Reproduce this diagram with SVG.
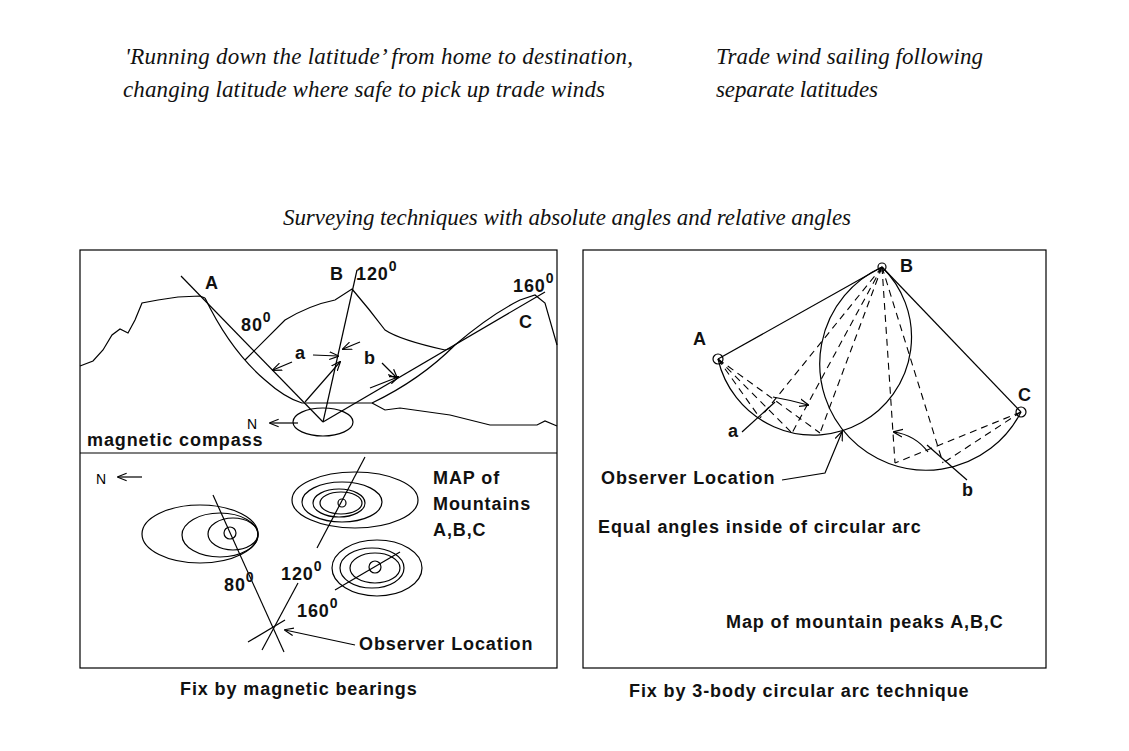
<svg xmlns="http://www.w3.org/2000/svg" width="1129" height="751" viewBox="0 0 1129 751">
<defs>
<marker id="ah" viewBox="0 0 10 10" refX="9" refY="5" markerWidth="8" markerHeight="8" orient="auto-start-reverse"><path d="M0,1 L10,5 L0,9" fill="none" stroke="#000" stroke-width="1.2"/></marker>
</defs>
<style>
.s{fill:none;stroke:#000;stroke-width:1.2}
.d{fill:none;stroke:#000;stroke-width:1.1;stroke-dasharray:7 5}
.b{font-family:"Liberation Sans",Arial,sans-serif;font-weight:bold;font-size:18px;fill:#111;letter-spacing:0.9px}
.i{font-family:"Liberation Serif","Times New Roman",serif;font-style:italic;font-size:23px;fill:#111}
.sup{font-size:14px}
</style>
<rect width="1129" height="751" fill="#fff"/>
<text class="i" x="125" y="64" textLength="508">'Running down the latitude’ from home to destination,</text>
<text class="i" x="123" y="97" textLength="482">changing latitude where safe to pick up trade winds</text>
<text class="i" x="716" y="64" textLength="267">Trade wind sailing following</text>
<text class="i" x="716" y="97" textLength="162">separate latitudes</text>
<text class="i" x="283" y="225" textLength="568">Surveying techniques with absolute angles and relative angles</text>

<g id="left-panel">
<rect class="s" x="80" y="250" width="477" height="418"/>
<line class="s" x1="80" y1="453" x2="557" y2="453"/>
<path class="s" d="M80,366 L93,361 L103,350 L112,335 L120,329 L128,333 L135,320 L142,303 L158,300 L178,297 L200,296 L205,298"/>
<path class="s" d="M205,298 Q230,350 265,380 Q285,398 302,403 L372,403 Q420,380 455,345 Q490,315 520,300 L535,295 L545,303 L557,345"/>
<path class="s" d="M245,360 Q265,340 285,320 Q310,305 335,300 L352,289 Q370,310 385,330 Q400,340 445,350 L452,348"/>
<path class="s" d="M372,403 L385,410 L400,408 L450,415 L490,425 L537,425 L545,421 L557,426"/>
<ellipse class="s" cx="323" cy="422" rx="30" ry="14"/>
<line class="s" x1="323" y1="422" x2="181" y2="276"/>
<line class="s" x1="323" y1="422" x2="357" y2="270"/>
<line class="s" x1="323" y1="422" x2="545" y2="292"/>
<line class="s" x1="298" y1="423" x2="270" y2="423" marker-end="url(#ah)"/>
<path class="s" d="M305,402 L340,362" marker-end="url(#ah)"/>
<path class="s" d="M370,388 L398,377" marker-end="url(#ah)"/>
<path class="s" d="M292,362 L273,370" marker-end="url(#ah)"/>
<path class="s" d="M313,355 L338,356" marker-end="url(#ah)"/>
<path class="s" d="M360,342 L343,349" marker-end="url(#ah)"/>
<path class="s" d="M382,363 L397,378" marker-end="url(#ah)"/>
<text class="b" x="205" y="289">A</text>
<text class="b" x="330" y="280">B</text>
<text class="b" x="356" y="280">120<tspan class="sup" dy="-9">0</tspan></text>
<text class="b" x="241" y="331">80<tspan class="sup" dy="-9">0</tspan></text>
<text class="b" x="513" y="292">160<tspan class="sup" dy="-9">0</tspan></text>
<text class="b" x="519" y="328">C</text>
<text class="b" x="295" y="359">a</text>
<text class="b" x="364" y="364">b</text>
<text x="247" y="429" style="font-family:'Liberation Sans',sans-serif;font-size:14px">N</text>
<text class="b" x="87" y="446">magnetic compass</text>

<text x="96" y="484" style="font-family:'Liberation Sans',sans-serif;font-size:14px">N</text>
<line class="s" x1="142" y1="477" x2="118" y2="477" marker-end="url(#ah)"/>
<ellipse class="s" cx="200" cy="534" rx="58" ry="29"/>
<ellipse class="s" cx="220" cy="535" rx="38" ry="22"/>
<ellipse class="s" cx="233" cy="534" rx="25" ry="16"/>
<circle class="s" cx="230" cy="533" r="6"/>
<ellipse class="s" cx="355" cy="500" rx="63" ry="28"/>
<ellipse class="s" cx="342" cy="502" rx="40" ry="20"/>
<ellipse class="s" cx="339" cy="503" rx="26" ry="14"/>
<ellipse class="s" cx="341" cy="503" rx="21" ry="11"/>
<circle class="s" cx="342" cy="503" r="4"/>
<ellipse class="s" cx="377" cy="568" rx="45" ry="28"/>
<ellipse class="s" cx="372" cy="568" rx="32" ry="20"/>
<ellipse class="s" cx="375" cy="568" rx="25" ry="15"/>
<circle class="s" cx="375" cy="567" r="6"/>
<line class="s" x1="213" y1="495" x2="284" y2="652"/>
<line class="s" x1="262" y1="650" x2="298" y2="583"/>
<line class="s" x1="317" y1="548" x2="365" y2="457"/>
<line class="s" x1="248" y1="642" x2="285" y2="620"/>
<line class="s" x1="335" y1="590" x2="400" y2="552"/>
<line class="s" x1="355" y1="645" x2="285" y2="630" marker-end="url(#ah)"/>
<text class="b" x="224" y="591">80<tspan class="sup" dy="-9">0</tspan></text>
<text class="b" x="281" y="580">120<tspan class="sup" dy="-9">0</tspan></text>
<text class="b" x="297" y="617">160<tspan class="sup" dy="-9">0</tspan></text>
<text class="b" x="359" y="650">Observer Location</text>
<text class="b" x="433" y="484">MAP of</text>
<text class="b" x="433" y="510">Mountains</text>
<text class="b" x="433" y="536">A,B,C</text>
</g>

<g id="right-panel">
<rect class="s" x="583" y="250" width="463" height="418"/>
<line class="s" x1="882" y1="267" x2="718" y2="359"/>
<line class="s" x1="882" y1="267" x2="1021" y2="412"/>
<path class="s" d="M718,359 A98,98 0 1 0 882,267"/>
<path class="s" d="M882,267 A106.4,106.4 0 1 0 1021,412"/>
<circle class="s" cx="882" cy="267" r="4" fill="#fff"/>
<circle class="s" cx="718" cy="359" r="5" fill="#fff"/>
<circle class="s" cx="1021" cy="412" r="5" fill="#fff"/>
<line class="d" x1="718" y1="359" x2="792" y2="433"/>
<line class="d" x1="718" y1="359" x2="820" y2="433"/>
<line class="d" x1="718" y1="359" x2="760" y2="418"/>
<line class="d" x1="882" y1="267" x2="792" y2="433"/>
<line class="d" x1="882" y1="267" x2="820" y2="433"/>
<line class="d" x1="882" y1="267" x2="760" y2="418"/>
<line class="d" x1="882" y1="267" x2="895" y2="463"/>
<line class="d" x1="882" y1="267" x2="943" y2="463"/>
<line class="d" x1="1021" y1="412" x2="895" y2="463"/>
<line class="d" x1="1021" y1="412" x2="943" y2="463"/>
<path class="s" d="M773,397 Q790,400 808,405" marker-end="url(#ah)"/>
<line class="s" x1="742" y1="432" x2="775" y2="402"/>
<path class="s" d="M928,452 Q915,435 894,432" marker-end="url(#ah)"/>
<line class="s" x1="967" y1="480" x2="927" y2="445"/>
<path class="s" d="M782,480 L825,473 L842,432" marker-end="url(#ah)"/>
<text class="b" x="693" y="345">A</text>
<text class="b" x="900" y="272">B</text>
<text class="b" x="1018" y="401">C</text>
<text class="b" x="728" y="437">a</text>
<text class="b" x="962" y="496">b</text>
<text class="b" x="601" y="484">Observer Location</text>
<text class="b" x="598" y="533">Equal angles inside of circular arc</text>
<text class="b" x="726" y="628">Map of mountain peaks A,B,C</text>
</g>
<text class="b" x="180" y="695">Fix by magnetic bearings</text>
<text class="b" x="629" y="697">Fix by 3-body circular arc technique</text>
</svg>
